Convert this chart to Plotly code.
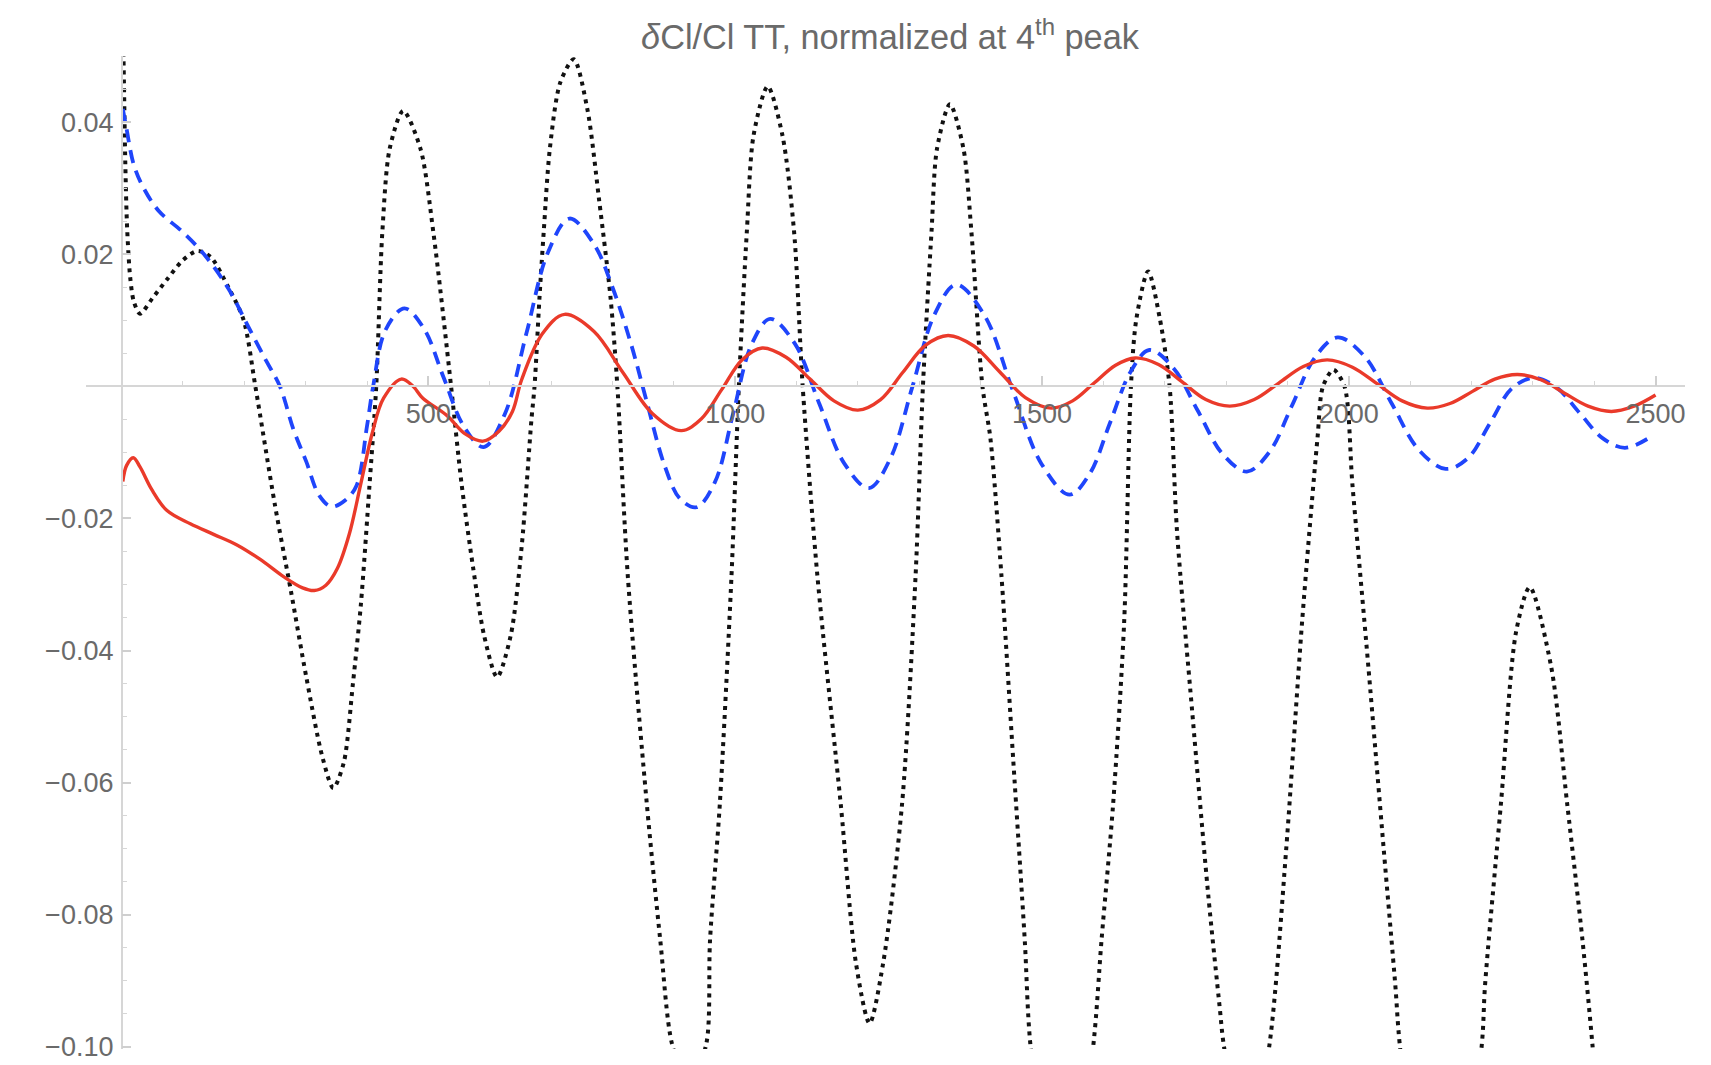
import plotly.graph_objects as go

# ---------------- data ----------------
black_l = [2, 4, 6, 9, 14, 20, 30, 50, 75, 100, 124, 145, 174, 199, 218, 250, 276, 301, 327, 345,
           362, 377, 390, 404, 415, 425, 437, 459, 487, 508, 537, 554, 573, 591, 612, 634, 652, 668,
           673, 681, 688, 698, 715, 737, 759, 778, 797, 808, 825, 856, 878, 897, 925, 953, 959, 975,
           994, 1006, 1019, 1030, 1053, 1077, 1096, 1110, 1134, 1172, 1197, 1219, 1241, 1272, 1294,
           1306, 1320, 1329, 1350, 1372, 1385, 1403, 1416, 1434, 1453, 1472, 1481, 1532, 1584, 1597,
           1616, 1634, 1645, 1654, 1673, 1692, 1708, 1720, 1745, 1771, 1790, 1796, 1834, 1871, 1898,
           1924, 1949, 1958, 1975, 1993, 2006, 2032, 2057, 2076, 2083, 2150, 2217, 2222, 2248, 2273,
           2295, 2330, 2356, 2381, 2397, 2420]
black_v = [0.056, 0.045, 0.034, 0.024, 0.0165, 0.0128, 0.0110, 0.0133, 0.0163, 0.0191, 0.0205, 0.0196,
           0.0150, 0.0100, 0.0, -0.018, -0.031, -0.044, -0.056, -0.0608,
           -0.057, -0.045, -0.033, -0.015, 0.0, 0.0234, 0.036, 0.0417, 0.036, 0.0234, 0.0, -0.0147,
           -0.0275, -0.0378, -0.0440, -0.0378, -0.0243, -0.005,
           0.0, 0.0133, 0.0234, 0.036, 0.046, 0.0495, 0.042, 0.0284, 0.0133, 0.0, -0.0287, -0.0632,
           -0.0839, -0.0995, -0.106, -0.0995, -0.0839, -0.0632,
           -0.0287, 0.0, 0.0234, 0.038, 0.0454, 0.038, 0.0234, 0.0, -0.0287, -0.0632, -0.0874, -0.0964,
           -0.0874, -0.0632, -0.0287,
           0.0, 0.0234, 0.036, 0.0427, 0.036, 0.0234, 0.0, -0.0079, -0.0287, -0.0563, -0.0839, -0.0995,
           -0.135, -0.0995, -0.0839,
           -0.0632, -0.0356, 0.0, 0.0103, 0.0174, 0.0103, 0.0, -0.0218, -0.0494, -0.077, -0.0943, -0.0995,
           -0.118, -0.0995, -0.0701,
           -0.0356, -0.0079, 0.0, 0.0025, 0.0, -0.0149, -0.0425, -0.0701, -0.0908, -0.0995, -0.148,
           -0.0995, -0.0908, -0.0632, -0.037,
           -0.0304, -0.0425, -0.0632, -0.0839, -0.0995, -0.125]

blue_l = [2, 8, 20, 36, 61, 99, 136, 174, 205, 236, 258, 280, 301, 322, 342, 365, 383, 400, 410, 430,
          461, 493, 525, 558, 590, 625, 660, 695, 730, 770, 800, 830, 855, 885, 910, 937,
          967, 997, 1027, 1057, 1097, 1137, 1178, 1218, 1253, 1289, 1325, 1360, 1406, 1452, 1499, 1545,
          1578, 1611, 1645, 1675, 1714, 1754, 1794, 1834, 1871, 1908, 1945, 1982, 2026, 2070, 2114, 2158,
          2194, 2230, 2266, 2302, 2339, 2376, 2413, 2450, 2493]
blue_v = [0.042, 0.039, 0.0335, 0.0300, 0.0265, 0.0234, 0.0198, 0.0148, 0.0093, 0.0038, 0.0, -0.0065,
          -0.0114, -0.0165, -0.0182, -0.0172, -0.0150, -0.0060, 0.0, 0.0085,
          0.0118, 0.0087, 0.0013, -0.0061, -0.0092, -0.0041, 0.0081, 0.0203, 0.0254, 0.0215, 0.0150,
          0.0065, -0.0020, -0.0120, -0.0170, -0.0183,
          -0.0145, -0.0040, 0.0064, 0.0102, 0.0065, -0.0026, -0.0117, -0.0154, -0.0109, 0.0, 0.0109,
          0.0154, 0.0108, -0.0005, -0.0117, -0.0164,
          -0.0132, -0.0055, 0.0023, 0.0055, 0.0028, -0.0037, -0.0102, -0.0129, -0.0099, -0.0028,
          0.0044, 0.0074, 0.0045, -0.0026, -0.0096, -0.0125,
          -0.0109, -0.0056, -0.0003, 0.0013, -0.0002, -0.0040, -0.0078, -0.0093, -0.0076]

red_l = [2, 8, 19, 30, 49, 74, 112, 150, 188, 226, 264, 295, 314, 333, 352, 371, 390, 409, 427, 456,
         475, 491, 530, 560, 589, 615, 637, 652, 686, 722, 770, 817, 865, 912, 945, 978, 1011, 1044,
         1083, 1122, 1161, 1200, 1237, 1273, 1310, 1347, 1389, 1431, 1473, 1515, 1550, 1585, 1620, 1652,
         1690, 1728, 1767, 1806, 1846, 1886, 1926, 1965, 2006, 2046, 2087, 2128, 2165, 2201, 2238, 2275,
         2313, 2351, 2390, 2428, 2465, 2500]
red_v = [-0.0144, -0.0120, -0.0108, -0.0122, -0.0156, -0.0188, -0.0208, -0.0224, -0.0240, -0.0262,
         -0.0288, -0.0305, -0.0309, -0.0301, -0.0275, -0.0224, -0.0147, -0.0069, -0.0018, 0.0011,
         0.0, -0.0018, -0.0044, -0.0072, -0.0083, -0.0068, -0.0038, 0.0010, 0.0080, 0.0109, 0.0083,
         0.0021, -0.0041, -0.0067, -0.0049, -0.0005, 0.0040, 0.0058,
         0.0044, 0.0011, -0.0022, -0.0036, -0.0020, 0.0021, 0.0062, 0.0077, 0.0061, 0.0022, -0.0017,
         -0.0033, -0.0022, 0.0005, 0.0032, 0.0043,
         0.0033, 0.0007, -0.0020, -0.0030, -0.0020, 0.0005, 0.0030, 0.0040, 0.0029, 0.0004, -0.0022,
         -0.0033, -0.0026, -0.0008, 0.0011, 0.0018,
         0.0010, -0.0010, -0.0030, -0.0038, -0.0030, -0.0013]

x_ticks = [500, 1000, 1500, 2000, 2500]
x_ticktext = ["500", "1000", "1500", "2000", "2500"]
y_ticks = [-0.10, -0.08, -0.06, -0.04, -0.02, 0.02, 0.04]
y_ticktext = ["\u22120.10", "\u22120.08", "\u22120.06", "\u22120.04", "\u22120.02", "0.02", "0.04"]

title_text = "<i>\u03b4</i>Cl/Cl TT, normalized at 4<sup>th</sup> peak"

# ---------------- figure ----------------
X_RANGE = [-58, 2548]
Y_RANGE = [-0.1003, 0.05]

fig = go.Figure()
fig.add_trace(go.Scatter(x=black_l, y=black_v, mode="lines",
                         line=dict(color="#111111", width=4.0, dash="4px,5px", shape="spline", smoothing=0.8)))
fig.add_trace(go.Scatter(x=blue_l, y=blue_v, mode="lines",
                         line=dict(color="#1f45fb", width=3.8, dash="13px,8px", shape="spline", smoothing=1.0)))
fig.add_trace(go.Scatter(x=red_l, y=red_v, mode="lines",
                         line=dict(color="#ea3a2a", width=3.4, shape="spline", smoothing=1.0)))

tick_font = dict(family="Liberation Sans, Arial, sans-serif", size=27, color="#6a6a6a")
axis_col = "#d6d6d6"

xpos = (0 - Y_RANGE[0]) / (Y_RANGE[1] - Y_RANGE[0])
ypos = (0 - X_RANGE[0]) / (X_RANGE[1] - X_RANGE[0])

fig.update_layout(
    width=1711, height=1065,
    margin=dict(l=86, r=26, t=56, b=16, autoexpand=False),
    paper_bgcolor="white", plot_bgcolor="white",
    showlegend=False,
    title=dict(text=title_text, x=890 / 1711, xref="container", xanchor="center",
               y=1 - 37 / 1065, yref="container", yanchor="middle",
               font=dict(family="Liberation Sans, Arial, sans-serif", size=34.3, color="#6a6a6a")),
    xaxis=dict(range=X_RANGE, anchor="free", position=xpos, showline=True, linecolor=axis_col,
               linewidth=1.5, showgrid=False, zeroline=False, tickmode="array", tickvals=x_ticks,
               ticktext=x_ticktext, ticks="inside", ticklen=10, tickwidth=1.5, tickcolor="#cfcfcf",
               tickfont=tick_font, ticklabelstandoff=4, automargin=False,
               minor=dict(ticks="inside", ticklen=5, tickwidth=1.2, tickcolor="#d6d6d6",
                          tickmode="linear", tick0=0, dtick=100, showgrid=False)),
    yaxis=dict(range=Y_RANGE, anchor="free", position=ypos, showline=True, linecolor=axis_col,
               linewidth=1.5, showgrid=False, zeroline=False, tickmode="array", tickvals=y_ticks,
               ticktext=y_ticktext, ticks="inside", ticklen=9, tickwidth=1.5, tickcolor="#cfcfcf",
               tickfont=tick_font, ticklabelstandoff=2, automargin=False,
               minor=dict(ticks="inside", ticklen=5, tickwidth=1.2, tickcolor="#d6d6d6",
                          tickmode="linear", tick0=0, dtick=0.005, showgrid=False)),
)

fig.write_html("out.html")
